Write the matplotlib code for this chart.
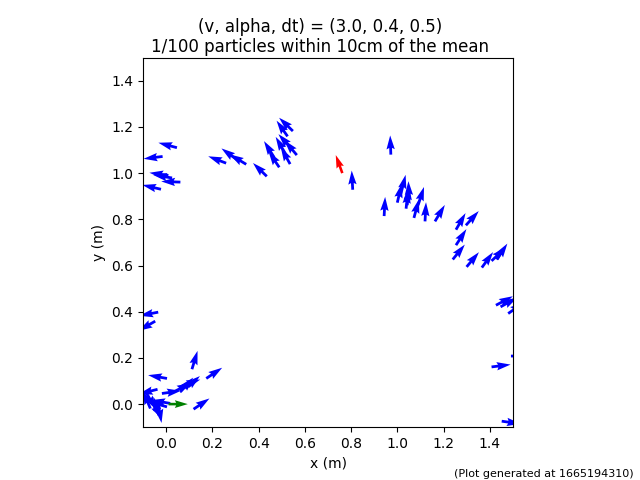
import numpy as np
import matplotlib
matplotlib.use("Agg")
import matplotlib.pyplot as plt

# particle poses: x (m), y (m), heading (deg)
particle_x = [0.046, -0.016, 0.025, 0.009, 0.061, -0.023,
              0.259, 0.306, 0.346, 0.435, 0.489, 0.467,
              0.548, 0.525, 0.565, 0.541, 0.536, 0.515,
              0.807, 0.972,
              0.943, 1.000, 1.016, 1.038, 1.043, 1.051, 1.072, 1.090, 1.120, 1.163,
              1.254, 1.297, 1.254, 1.240, 1.300, 1.366, 1.408, 1.430,
              1.427, 1.447, 1.480, 1.408, 1.492, 1.452,
              -0.035, -0.048,
              0.111, 0.003, 0.173, 0.118,
              -0.019, 0.032, 0.061, 0.082, 0.069,
              -0.038, -0.069, -0.033, 0.003, 0.017, -0.086, -0.061, -0.035]
particle_y = [1.110, 1.072, 0.979, 0.990, 0.961, 0.930,
              1.043, 1.058, 1.038, 0.986, 1.025, 1.068,
              1.182, 1.159, 1.078, 1.107, 1.039, 1.085,
              0.928, 1.080,
              0.814, 0.872, 0.912, 0.846, 0.861, 0.882, 0.806, 0.861, 0.791, 0.791,
              0.755, 0.774, 0.688, 0.626, 0.594, 0.591, 0.620, 0.626,
              0.428, 0.421, 0.392, 0.161, 0.208, -0.074,
              0.398, 0.359,
              0.151, 0.111, 0.111, -0.022,
              0.046, 0.053, 0.053, 0.068, 0.078,
              0.064, -0.019, -0.048, -0.012, 0.003, 0.048, 0.009, 0.000]
particle_theta = [165, 187, 171, 172, 178, 167,
                  159, 144, 149, 136, 124, 122,
                  136, 125, 130, 132, 119, 120,
                  93, 92,
                  87, 77, 76, 84, 85, 92, 75, 72, 87, 59,
                  60, 48, 57, 51, 50, 54, 43, 56,
                  28, 29, 35, 7, 0, -8,
                  191, 210,
                  73, 170, 34, 34,
                  8, 27, 48, 40, 20,
                  194, 113, 106, 164, 170, -60, -60, -80]

# mean estimate (red) and start pose (green)
mean_pose = (0.762, 1.000, 110)
start_pose = (0.010, 0.000, 0)

v, alpha, dt = 3.0, 0.4, 0.5
n_shown, n_total = 1, 100
stamp = 1665194310

arrow_len = 0.083

fig, ax = plt.subplots(figsize=(6.4, 4.8), dpi=100)

th = np.radians(particle_theta)
ax.quiver(particle_x, particle_y, np.cos(th), np.sin(th), color="blue",
          angles="xy", scale_units="xy", scale=1 / arrow_len)

th = np.radians(mean_pose[2])
ax.quiver([mean_pose[0]], [mean_pose[1]], [np.cos(th)], [np.sin(th)], color="red",
          angles="xy", scale_units="xy", scale=1 / arrow_len, width=0.007)

th = np.radians(start_pose[2])
ax.quiver([start_pose[0]], [start_pose[1]], [np.cos(th)], [np.sin(th)], color="green",
          angles="xy", scale_units="xy", scale=1 / arrow_len, width=0.007)

ax.set_xlim(-0.1, 1.5)
ax.set_ylim(-0.1, 1.5)
ax.set_aspect("equal")
ax.set_xlabel("x (m)")
ax.set_ylabel("y (m)")
fig.suptitle(f"(v, alpha, dt) = ({v}, {alpha}, {dt})\n"
             f"{n_shown}/{n_total} particles within 10cm of the mean",
             y=0.962, va="top", fontsize=12, linespacing=1.1)
fig.text(0.99, 0.003, f"(Plot generated at {stamp})", ha="right", va="bottom", fontsize=8)

plt.savefig("out.png")
plt.close()
